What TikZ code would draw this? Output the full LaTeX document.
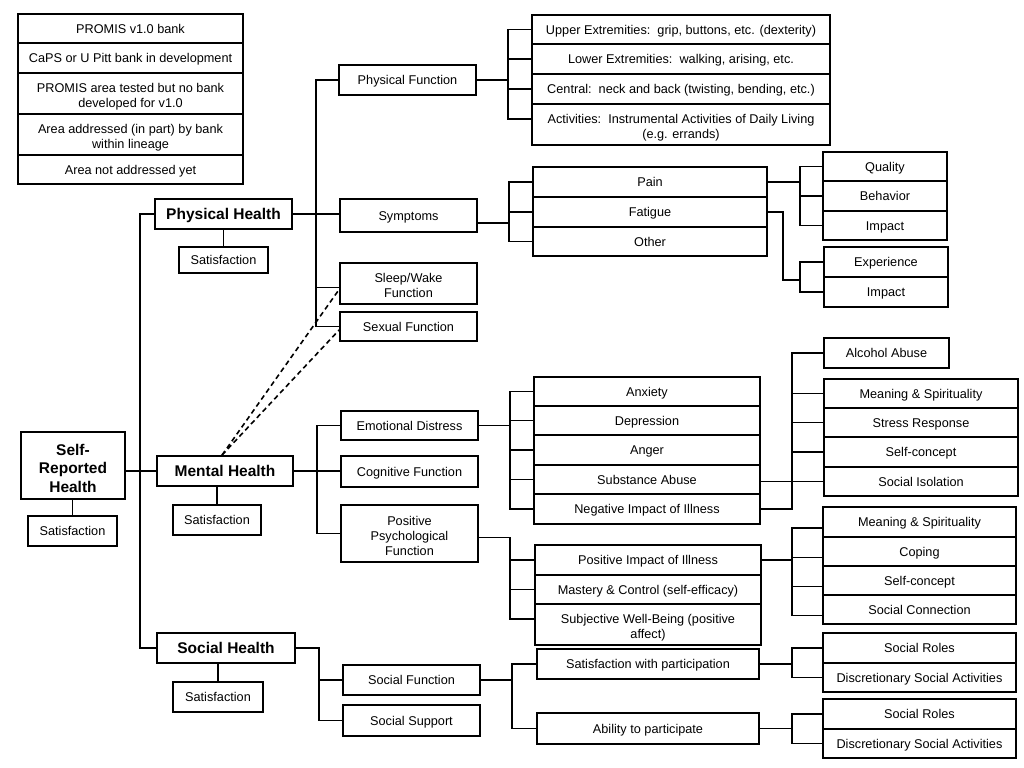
\documentclass[tikz,border=0pt]{standalone}
\usepackage{fontspec}
\setmainfont{Liberation Sans}
\tikzset{
  box/.style={draw, line width=1.8bp, inner sep=0pt, align=center, fill=white,
    font=\fontsize{12.7bp}{15bp}\selectfont, text height=9.2bp, text depth=0pt},
  ml/.style={text height=, text depth=0pt},
  hbox/.style={font=\fontsize{15.5bp}{18.5bp}\selectfont\bfseries, text height=11.2bp},
  conn/.style={line width=1.9bp},
  dashline/.style={line width=1.6bp, dash pattern=on 5bp off 3.5bp},
}
\newcommand{\upst}{\rule{0pt}{13.6bp}}
\newcommand{\upsb}{\rule{0pt}{16.5bp}}
\newcommand{\bx}[7][]{%
  \pgfmathsetmacro{\bxcx}{(#3+#5)/2}%
  \pgfmathsetmacro{\bxcy}{(#4+#6)/2}%
  \pgfmathsetmacro{\bxw}{#5-#3}%
  \pgfmathsetmacro{\bxh}{#6-#4}%
  \node[box,minimum width=\bxw bp,minimum height=\bxh bp,#1] (#2) at (\bxcx,\bxcy) {#7};}
\begin{document}
\begin{tikzpicture}[x=1bp,y=-1bp]
\useasboundingbox (0,0) rectangle (1024,768);
% legend
\bx{l1}{18}{14}{243}{43}{PROMIS v1.0 bank}
\bx{l2}{18}{43}{243}{73}{CaPS or U Pitt bank in development}
\bx[ml]{l3}{18}{73}{243}{114}{\upst PROMIS area tested but no bank\\developed for v1.0}
\bx[ml]{l4}{18}{114}{243}{155}{\upst Area addressed (in part) by bank\\within lineage}
\bx{l5}{18}{155}{243}{184}{Area not addressed yet}
% level 0/1
\bx[hbox,ml]{srh}{21}{432}{125}{499}{\upsb Self-\\Reported\\Health}
\bx{srhs}{28}{516}{117}{546}{Satisfaction}
\bx[hbox]{ph}{155}{199}{292}{229}{Physical Health}
\bx{phs}{179}{247}{268}{273}{Satisfaction}
\bx[hbox]{mh}{157}{456}{293}{486}{Mental Health}
\bx{mhs}{173}{505}{261}{535}{Satisfaction}
\bx[hbox]{sh}{157}{633}{295}{663}{Social Health}
\bx{shs}{173}{682}{263}{712}{Satisfaction}
% level 2
\bx{pf}{339}{65}{476}{95}{Physical Function}
\bx{sy}{340}{199}{477}{232}{Symptoms}
\bx[ml]{sw}{340}{263}{477}{304}{\upst Sleep/Wake\\Function}
\bx{sf}{340}{312}{477}{341}{Sexual Function}
\bx{ed}{341}{411}{478}{440}{Emotional Distress}
\bx{cf}{341}{456}{478}{487}{Cognitive Function}
\bx[ml]{ppf}{341}{505}{478}{562}{\upst Positive\\Psychological\\Function}
\bx{sof}{343}{665}{480}{695}{Social Function}
\bx{sos}{343}{705}{480}{736}{Social Support}
% level 3
\bx{ue}{532}{15}{830}{44}{Upper Extremities:\ \ grip, buttons, etc. (dexterity)}
\bx{le}{532}{44}{830}{74}{Lower Extremities:\ \ walking, arising, etc.}
\bx{ce}{532}{74}{830}{104}{Central:\ \ neck and back (twisting, bending, etc.)}
\bx[ml]{ac}{532}{104}{830}{145}{\upst Activities:\ \ Instrumental Activities of Daily Living\\(e.g. errands)}
\bx{pain}{533}{167}{767}{197}{Pain}
\bx{fat}{533}{197}{767}{227}{Fatigue}
\bx{oth}{533}{227}{767}{256}{Other}
\bx{anx}{534}{377}{760}{406}{Anxiety}
\bx{dep}{534}{406}{760}{435}{Depression}
\bx{ang}{534}{435}{760}{465}{Anger}
\bx{sub}{534}{465}{760}{494}{Substance Abuse}
\bx{neg}{534}{494}{760}{524}{Negative Impact of Illness}
\bx{pii}{535}{545}{761}{575}{Positive Impact of Illness}
\bx{mc}{535}{575}{761}{604}{Mastery \& Control (self-efficacy)}
\bx[ml]{swb}{535}{604}{761}{645}{\upst Subjective Well-Being (positive\\affect)}
\bx{swp}{537}{649}{759}{679}{Satisfaction with participation}
\bx{atp}{537}{713}{759}{744}{Ability to participate}
% level 4
\bx{pq}{823}{152}{947}{181}{Quality}
\bx{pb}{823}{181}{947}{211}{Behavior}
\bx{pim}{823}{211}{947}{240}{Impact}
\bx{fe}{824}{247}{948}{277}{Experience}
\bx{fim}{824}{277}{948}{307}{Impact}
\bx{al}{824}{338}{949}{368}{Alcohol Abuse}
\bx{ms1}{824}{379}{1018}{408}{Meaning \& Spirituality}
\bx{sr}{824}{408}{1018}{437}{Stress Response}
\bx{sc1}{824}{437}{1018}{467}{Self-concept}
\bx{si}{824}{467}{1018}{496}{Social Isolation}
\bx{ms2}{823}{507}{1016}{537}{Meaning \& Spirituality}
\bx{cop}{823}{537}{1016}{566}{Coping}
\bx{sc2}{823}{566}{1016}{595}{Self-concept}
\bx{scn}{823}{595}{1016}{624}{Social Connection}
\bx{sr1}{823}{633}{1016}{663}{Social Roles}
\bx{dsa1}{823}{663}{1016}{692}{Discretionary Social Activities}
\bx{sr2}{823}{699}{1016}{729}{Social Roles}
\bx{dsa2}{823}{729}{1016}{758}{Discretionary Social Activities}
% bracket columns
\coordinate (T0) at (140,0);
\coordinate (PT) at (316,0);
\coordinate (MB) at (317,0);
\coordinate (SB) at (319,0);
\coordinate (B1) at (508,0);
\coordinate (B2) at (509,0);
\coordinate (B4) at (510,0);
\coordinate (B6) at (512,0);
\coordinate (B3) at (800,0);
\coordinate (B5) at (792,0);
\coordinate (B7) at (792,0);
% main trunk
\draw[conn] (ph.west) -- (ph.west -| T0) -- (sh.west -| T0) -- (sh.west);
\draw[conn] (mh.west) -- (mh.west -| srh.east);
\draw[conn] (srhs.north) -- (srhs.north |- srh.south);
\draw[conn] (phs.north) -- (phs.north |- ph.south);
\draw[conn] (mhs.north) -- (mhs.north |- mh.south);
\draw[conn] (shs.north) -- (shs.north |- sh.south);
% physical health
\draw[conn] (ph.east) -- (ph.east -| sy.west);
\draw[conn] (pf.west) -| (PT |- sf.west) -- (sf.west);
\coordinate (swt) at ([yshift=-4bp]sw.west);
\draw[conn] (swt) -- (swt -| PT);
% physical function subs
\draw[conn] (pf.east) -- (pf.east -| B1);
\coordinate (act) at ([yshift=5.5bp]ac.west);
\draw[conn] (ue.west) -| (B1 |- act) -- (act);
\draw[conn] (le.west) -- (le.west -| B1);
\draw[conn] (ce.west) -- (ce.west -| B1);
% symptoms
\coordinate (syo) at ([yshift=-7.5bp]sy.east);
\draw[conn] (syo) -- (syo -| B2);
\draw[conn] (pain.west) -| (B2 |- oth.west) -- (oth.west);
\draw[conn] (fat.west) -- (fat.west -| B2);
\draw[conn] (pain.east) -- (pain.east -| B3);
\draw[conn] (pq.west) -| (B3 |- pim.west) -- (pim.west);
\draw[conn] (pb.west) -- (pb.west -| B3);
\coordinate (FJ) at (783,280);
\draw[conn] (fat.east) -| (FJ) -- (FJ -| B3);
\draw[conn] (fe.west) -| (B3 |- fim.west) -- (fim.west);
% mental health
\draw[conn] (mh.east) -- (mh.east -| cf.west);
\draw[conn] (ed.west) -| (MB |- ppf.west) -- (ppf.west);
\draw[conn] (ed.east) -- (ed.east -| B4);
\draw[conn] (anx.west) -| (B4 |- neg.west) -- (neg.west);
\foreach \n in {dep,ang,sub} \draw[conn] (\n.west) -- (\n.west -| B4);
\draw[conn] (al.west) -| (B5 |- neg.east) -- (neg.east);
\draw[conn] (si.west) -- (si.west -| sub.east);
\foreach \n in {ms1,sr,sc1} \draw[conn] (\n.west) -- (\n.west -| B5);
\coordinate (ppfo) at ([yshift=-4bp]ppf.east);
\coordinate (swbt) at ([yshift=5.5bp]swb.west);
\draw[conn] (ppfo) -| (B4 |- swbt) -- (swbt);
\foreach \n in {pii,mc} \draw[conn] (\n.west) -- (\n.west -| B4);
\draw[conn] (pii.east) -- (pii.east -| B5);
\foreach \n in {ms2,cop,sc2,scn} \coordinate (\n t) at ([yshift=-6bp]\n.west);
\draw[conn] (ms2t) -| (B5 |- scnt) -- (scnt);
\foreach \n in {copt,sc2t} \draw[conn] (\n) -- (\n -| B5);
% social health
\draw[conn] (sh.east) -| (SB |- sos.west) -- (sos.west);
\draw[conn] (sof.west) -- (sof.west -| SB);
\draw[conn] (sof.east) -- (sof.east -| B6);
\draw[conn] (swp.west) -| (B6 |- atp.west) -- (atp.west);
\draw[conn] (swp.east) -- (swp.east -| B7);
\draw[conn] (sr1.west) -| (B7 |- dsa1.west) -- (dsa1.west);
\draw[conn] (atp.east) -- (atp.east -| B7);
\draw[conn] (sr2.west) -| (B7 |- dsa2.west) -- (dsa2.west);
% dashed links
\coordinate (dst) at ([xshift=-3bp]mh.north);
\coordinate (swd) at ([yshift=-6bp]sw.west);
\coordinate (sfd) at ([yshift=-3.5bp]sf.west);
\draw[dashline] (dst) -- (swd);
\draw[dashline] (dst) -- (sfd);
\end{tikzpicture}
\end{document}
